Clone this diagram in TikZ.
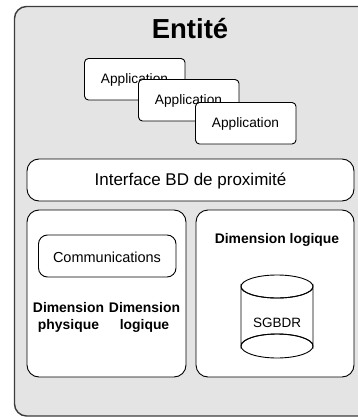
\documentclass[tikz,border=0pt]{standalone}
\usepackage{fontspec}
\setmainfont{Liberation Sans}
\definecolor{outerfill}{HTML}{E4E4E4}
\definecolor{outerdraw}{HTML}{3C3C3C}
\begin{document}
\begin{tikzpicture}[x=1pt,y=-1pt,
  outerbox/.style={draw=outerdraw,fill=outerfill,line width=1.4pt,rounded corners=12pt},
  whitebox/.style={draw=black,fill=white,line width=0.9pt},
  appbox/.style={whitebox,rounded corners=4pt},
  lbl/.style={inner sep=0pt,align=center},
]
\useasboundingbox (0,0) rectangle (358,417);
% outer entity box
\draw[outerbox] (14.5,6.5) rectangle (372,416);
\node[lbl,font=\fontsize{27.5}{30}\selectfont\bfseries] (title) at (190,29) {Entité};
% applications
\draw[appbox] (84.5,58.5) rectangle (185,100) coordinate (a1);
\node[lbl,font=\fontsize{13.7}{16}\selectfont] (app1) at (134.5,80) {Application};
\draw[appbox] (138.5,79.5) rectangle (239,121);
\node[lbl,font=\fontsize{13.7}{16}\selectfont] (app2) at (188.5,101) {Application};
\draw[appbox] (195.5,102.5) rectangle (296,144);
\node[lbl,font=\fontsize{13.7}{16}\selectfont] (app3) at (245.5,124) {Application};
% interface
\draw[whitebox,rounded corners=12pt] (27,159) rectangle (354,201);
\node[lbl,font=\fontsize{17}{20}\selectfont] (iface) at (190.5,181) {Interface BD de proximité};
% left dimension box
\draw[whitebox,rounded corners=12pt] (27,210) rectangle (186,377);
\draw[whitebox,rounded corners=9pt] (38.5,235) rectangle (176,277);
\node[lbl,font=\fontsize{14.5}{17}\selectfont] (comm) at (107,257) {Communications};
\node[lbl,font=\fontsize{13.9}{17}\selectfont\bfseries] (dphys) at (68.5,317.5) {Dimension\\physique};
\node[lbl,font=\fontsize{13.9}{17}\selectfont\bfseries] (dlog) at (144.5,317.5) {Dimension\\logique};
% right dimension box
\draw[whitebox,rounded corners=12pt] (196,210) rectangle (354,377);
\node[lbl,font=\fontsize{13.9}{17}\selectfont\bfseries] (dlog2) at (277,240) {Dimension logique};
% cylinder
\draw[whitebox] (241,286.5) -- (241,346) arc[start angle=180,end angle=360,x radius=36,y radius=12]
  -- (313,286.5) arc[start angle=0,end angle=180,x radius=36,y radius=11.5] -- cycle;
\draw[line width=0.9pt] (277,286.5) ellipse[x radius=36,y radius=11.5];
\draw[line width=0.9pt] (277,346) ellipse[x radius=36,y radius=12];
\node[lbl,font=\fontsize{13.5}{16}\selectfont] (db) at (277,323) {SGBDR};
\end{tikzpicture}
\end{document}
